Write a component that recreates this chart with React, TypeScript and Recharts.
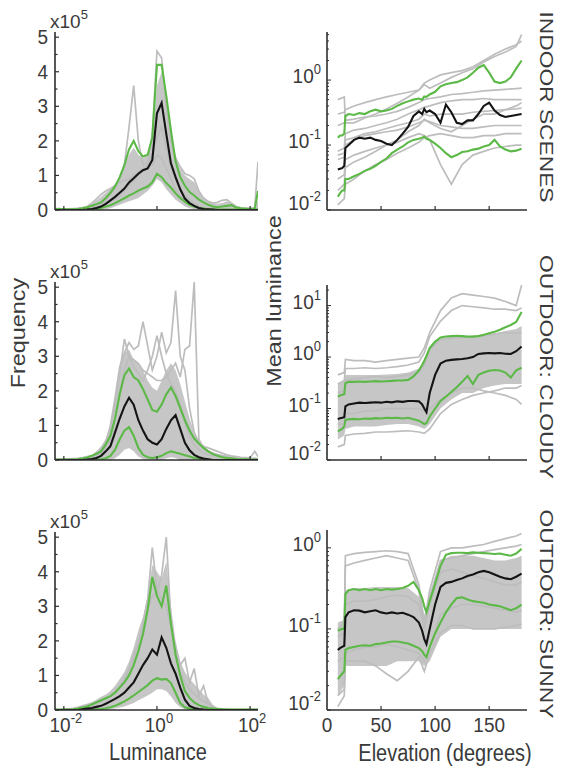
import React from "react";
import { ComposedChart, Line, Area, XAxis, YAxis } from "recharts";

const FONT = "'Liberation Sans', Arial, Helvetica, sans-serif";
const INK = "#3a3a3a";
const AXIS = "#2e2e2e";
const GRAY = "#bdbdbd";
const BAND = "#c6c6c6";
const GREEN = "#5cb947";
const BLACK = "#141414";

// ---- left column: luminance histograms (x = log10 luminance, y = frequency x1e5)
const lumBins = [-2.2, -2.1, -2.0, -1.9, -1.8, -1.7, -1.6, -1.5, -1.4, -1.3, -1.2, -1.1, -1.0, -0.9, -0.8, -0.7, -0.6, -0.5, -0.4, -0.3, -0.2, -0.1, 0, 0.1, 0.2, 0.3, 0.4, 0.5, 0.6, 0.7, 0.8, 0.9, 1.0, 1.1, 1.2, 1.3, 1.4, 1.5, 1.6, 1.7, 1.8, 1.9, 2.0, 2.1, 2.17];
const lumTicks = [-2, 0, 2];
const freqTicks = [0, 0.5, 1, 1.5, 2, 2.5, 3, 3.5, 4, 4.5, 5];

// indoor
const inHistMean = [0, 0, 0, 0, 0, 0, 0, 0.01, 0.03, 0.06, 0.1, 0.18, 0.28, 0.38, 0.5, 0.62, 0.8, 0.92, 1.05, 1.15, 1.2, 1.45, 2.8, 3.1, 2.2, 1.35, 0.95, 0.6, 0.33, 0.2, 0.12, 0.06, 0.03, 0.02, 0.01, 0, 0, 0, 0, 0, 0, 0, 0, 0, 0];
const inHistHi = [0.03, 0.03, 0.02, 0.02, 0.02, 0.03, 0.05, 0.08, 0.12, 0.17, 0.22, 0.35, 0.5, 0.68, 0.95, 1.3, 1.75, 2.0, 1.7, 1.55, 1.6, 2.1, 4.2, 4.2, 3.3, 2.3, 1.4, 0.95, 0.7, 0.52, 0.42, 0.3, 0.22, 0.15, 0.1, 0.08, 0.1, 0.12, 0.14, 0.07, 0.05, 0.04, 0.03, 0.04, 0.55];
const inHistLo = [0, 0, 0, 0, 0, 0, 0, 0.01, 0.02, 0.04, 0.06, 0.1, 0.14, 0.2, 0.27, 0.34, 0.42, 0.48, 0.56, 0.62, 0.68, 0.8, 1.05, 0.95, 0.78, 0.65, 0.48, 0.35, 0.24, 0.15, 0.1, 0.06, 0.04, 0.02, 0.01, 0.01, 0.01, 0.01, 0.01, 0.01, 0.01, 0.01, 0.01, 0.01, 0.01];
const inHistBandHi = [0.05, 0.05, 0.04, 0.04, 0.05, 0.06, 0.08, 0.12, 0.18, 0.28, 0.38, 0.5, 0.62, 0.75, 0.95, 1.3, 1.6, 1.8, 1.6, 1.5, 1.6, 2.0, 3.6, 4.0, 3.1, 2.2, 1.6, 1.2, 1.0, 0.9, 0.8, 0.55, 0.35, 0.25, 0.2, 0.18, 0.2, 0.25, 0.2, 0.12, 0.08, 0.06, 0.05, 0.05, 0.3];
const inHistBandLo = [0, 0, 0, 0, 0, 0, 0, 0, 0, 0, 0.01, 0.02, 0.05, 0.1, 0.15, 0.2, 0.25, 0.3, 0.35, 0.45, 0.55, 0.7, 0.9, 0.8, 0.6, 0.45, 0.3, 0.2, 0.1, 0.05, 0.02, 0, 0, 0, 0, 0, 0, 0, 0, 0, 0, 0, 0, 0, 0];
const inHistGray1 = [0, 0, 0, 0, 0, 0, 0.01, 0.02, 0.05, 0.1, 0.18, 0.3, 0.45, 0.65, 0.9, 1.3, 2.4, 3.6, 2.0, 1.3, 1.35, 1.6, 2.1, 2.4, 1.8, 1.2, 0.85, 0.6, 0.45, 0.3, 0.2, 0.12, 0.08, 0.05, 0.03, 0.02, 0.02, 0.02, 0.01, 0.01, 0.01, 0.01, 0.01, 0.01, 0.01];
const inHistGray2 = [0.04, 0.04, 0.03, 0.03, 0.03, 0.04, 0.05, 0.07, 0.1, 0.13, 0.17, 0.2, 0.25, 0.32, 0.4, 0.55, 0.7, 0.85, 1.0, 1.15, 1.3, 2.2, 4.6, 4.4, 3.0, 2.0, 1.5, 1.25, 1.05, 1.0, 0.9, 0.55, 0.35, 0.25, 0.2, 0.22, 0.28, 0.3, 0.2, 0.1, 0.06, 0.05, 0.05, 0.06, 1.4];
const inHistGray3 = [0.02, 0.02, 0.03, 0.03, 0.04, 0.05, 0.07, 0.1, 0.2, 0.32, 0.45, 0.55, 0.62, 0.7, 0.8, 0.85, 0.9, 1.0, 1.1, 1.2, 1.25, 1.3, 1.6, 1.5, 1.2, 0.9, 0.6, 0.4, 0.28, 0.2, 0.15, 0.1, 0.07, 0.05, 0.04, 0.03, 0.03, 0.02, 0.02, 0.02, 0.02, 0.02, 0.02, 0.02, 0.02];

// outdoor cloudy
const clHistMean = [0, 0, 0, 0, 0, 0, 0, 0.01, 0.03, 0.06, 0.12, 0.25, 0.4, 0.8, 1.2, 1.55, 1.8, 1.6, 1.15, 0.85, 0.6, 0.5, 0.45, 0.6, 0.9, 1.15, 1.3, 0.9, 0.5, 0.28, 0.15, 0.08, 0.04, 0.02, 0, 0, 0, 0, 0, 0, 0, 0, 0, 0, 0];
const clHistHi = [0.01, 0.01, 0.01, 0.01, 0.01, 0.02, 0.04, 0.07, 0.12, 0.18, 0.25, 0.45, 0.7, 1.2, 1.9, 2.45, 2.65, 2.4, 2.3, 2.05, 1.75, 1.45, 1.4, 1.6, 1.9, 2.1, 1.85, 1.5, 1.15, 0.85, 0.62, 0.48, 0.35, 0.25, 0.17, 0.12, 0.08, 0.06, 0.05, 0.03, 0.02, 0.02, 0.01, 0.01, 0.01];
const clHistLo = [0, 0, 0, 0, 0, 0, 0, 0, 0, 0.01, 0.02, 0.05, 0.12, 0.3, 0.6, 0.85, 0.95, 0.7, 0.35, 0.15, 0.08, 0.06, 0.08, 0.12, 0.2, 0.25, 0.22, 0.18, 0.14, 0.1, 0.06, 0.04, 0.02, 0.01, 0, 0, 0, 0, 0, 0, 0, 0, 0, 0, 0];
const clHistBandHi = [0.03, 0.03, 0.03, 0.04, 0.05, 0.06, 0.08, 0.1, 0.15, 0.25, 0.4, 0.6, 1.0, 1.8, 2.6, 3.1, 3.2, 2.9, 2.8, 2.6, 2.3, 2.1, 2.0, 2.3, 2.6, 2.8, 2.6, 2.2, 1.7, 1.2, 0.8, 0.55, 0.4, 0.3, 0.22, 0.18, 0.15, 0.12, 0.1, 0.08, 0.06, 0.05, 0.05, 0.08, 0.05];
const clHistBandLo = [0, 0, 0, 0, 0, 0, 0, 0, 0, 0, 0, 0, 0, 0.05, 0.15, 0.3, 0.35, 0.25, 0.1, 0.03, 0, 0, 0, 0, 0.05, 0.08, 0.06, 0, 0, 0, 0, 0, 0, 0, 0, 0, 0, 0, 0, 0, 0, 0, 0, 0, 0];
const clHistGray1 = [0.02, 0.02, 0.02, 0.03, 0.04, 0.05, 0.07, 0.1, 0.13, 0.17, 0.2, 0.5, 1.0, 1.8, 2.7, 3.1, 3.4, 3.2, 3.3, 4.0, 3.3, 2.6, 3.0, 3.7, 3.1, 3.4, 4.9, 3.0, 2.6, 1.5, 0.8, 0.5, 0.4, 0.35, 0.3, 0.25, 0.2, 0.15, 0.12, 0.1, 0.08, 0.07, 0.06, 0.25, 0.1];
const clHistGray2 = [0.01, 0.01, 0.01, 0.01, 0.02, 0.03, 0.04, 0.06, 0.09, 0.13, 0.2, 0.35, 0.6, 1.2, 2.0, 2.6, 3.0, 2.9, 2.8, 2.6, 2.5, 2.4, 2.3, 2.3, 2.4, 2.6, 2.8, 2.4, 3.2, 3.3, 5.15, 0.6, 0.35, 0.25, 0.2, 0.16, 0.13, 0.1, 0.08, 0.06, 0.05, 0.04, 0.04, 0.04, 0.04];
const clHistGray3 = [0.01, 0.01, 0.02, 0.02, 0.03, 0.04, 0.05, 0.07, 0.1, 0.15, 0.3, 0.55, 0.9, 1.6, 2.5, 3.5, 3.0, 2.7, 2.5, 2.3, 2.6, 3.0, 3.6, 3.0, 2.5, 2.2, 2.0, 1.6, 1.1, 0.7, 0.45, 0.3, 0.2, 0.15, 0.12, 0.1, 0.08, 0.07, 0.06, 0.05, 0.04, 0.04, 0.03, 0.03, 0.03];

// outdoor sunny
const suHistMean = [0, 0, 0, 0, 0, 0, 0.02, 0.04, 0.06, 0.09, 0.12, 0.18, 0.25, 0.32, 0.4, 0.5, 0.65, 0.8, 1.05, 1.3, 1.5, 1.75, 1.6, 2.1, 1.8, 1.35, 1.05, 0.65, 0.3, 0.12, 0.06, 0.03, 0.01, 0, 0, 0, 0, 0, 0, 0, 0, 0, 0, 0, 0];
const suHistHi = [0.01, 0.01, 0.01, 0.01, 0.02, 0.04, 0.07, 0.1, 0.16, 0.22, 0.28, 0.34, 0.4, 0.5, 0.65, 0.8, 1.0, 1.3, 1.7, 2.2, 2.9, 3.85, 3.3, 3.0, 3.6, 2.5, 1.6, 1.0, 0.55, 0.35, 0.22, 0.14, 0.09, 0.06, 0.04, 0.03, 0.02, 0.01, 0.01, 0.01, 0.01, 0.01, 0.01, 0.01, 0.01];
const suHistLo = [0, 0, 0, 0, 0, 0, 0, 0, 0, 0.02, 0.03, 0.05, 0.08, 0.12, 0.18, 0.25, 0.33, 0.42, 0.52, 0.62, 0.72, 0.85, 0.92, 0.88, 0.9, 0.78, 0.5, 0.2, 0.08, 0.04, 0.02, 0.01, 0, 0, 0, 0, 0, 0, 0, 0, 0, 0, 0, 0, 0];
const suHistBandHi = [0.02, 0.03, 0.04, 0.05, 0.06, 0.08, 0.1, 0.15, 0.22, 0.3, 0.38, 0.45, 0.55, 0.7, 0.9, 1.1, 1.4, 1.8, 2.3, 2.7, 3.3, 4.2, 4.0, 3.8, 4.3, 3.0, 2.0, 1.4, 1.1, 0.9, 0.75, 0.6, 0.45, 0.35, 0.15, 0.05, 0.03, 0.02, 0.02, 0.02, 0.01, 0.01, 0.01, 0.01, 0.01];
const suHistBandLo = [0, 0, 0, 0, 0, 0, 0, 0, 0, 0, 0, 0, 0.02, 0.04, 0.07, 0.1, 0.15, 0.2, 0.28, 0.35, 0.42, 0.5, 0.6, 0.6, 0.55, 0.4, 0.2, 0.08, 0.02, 0, 0, 0, 0, 0, 0, 0, 0, 0, 0, 0, 0, 0, 0, 0, 0];
const suHistGray1 = [0.01, 0.01, 0.02, 0.03, 0.05, 0.08, 0.12, 0.16, 0.2, 0.25, 0.3, 0.35, 0.4, 0.5, 0.65, 0.85, 1.1, 1.5, 1.9, 2.5, 3.2, 4.7, 3.5, 3.2, 3.0, 2.4, 1.8, 1.3, 1.5, 0.8, 1.2, 0.4, 0.7, 0.2, 0.08, 0.03, 0.02, 0.01, 0.01, 0.01, 0.01, 0.01, 0.01, 0.01, 0.01];
const suHistGray2 = [0, 0, 0.01, 0.01, 0.02, 0.03, 0.05, 0.08, 0.12, 0.18, 0.25, 0.32, 0.4, 0.52, 0.7, 0.9, 1.2, 1.6, 2.0, 2.4, 2.9, 3.3, 3.4, 3.9, 5.0, 2.6, 1.6, 1.1, 0.8, 0.6, 0.45, 0.35, 0.25, 0.18, 0.1, 0.05, 0.03, 0.02, 0.01, 0.01, 0.01, 0.01, 0.01, 0.01, 0.01];

// ---- right column: mean luminance vs elevation (degrees)
const elevFine = [10, 12, 14, 16, 17, 20, 25, 30, 35, 40, 45, 50, 55, 60, 65, 70, 75, 80, 85, 88, 90, 92, 95, 100, 105, 110, 115, 120, 125, 130, 135, 140, 145, 150, 155, 160, 165, 170, 175, 180];
const elevCoarse = [10, 16, 17, 25, 35, 45, 55, 65, 75, 85, 90, 95, 105, 115, 125, 135, 145, 155, 165, 175, 180];
const elevTicks = [0, 50, 100, 150];

// indoor
const inElevMean = [0.042, 0.043, 0.044, 0.048, 0.09, 0.1, 0.12, 0.13, 0.125, 0.13, 0.12, 0.115, 0.105, 0.1, 0.12, 0.15, 0.19, 0.28, 0.33, 0.3, 0.36, 0.32, 0.34, 0.3, 0.22, 0.42, 0.32, 0.22, 0.21, 0.24, 0.24, 0.3, 0.4, 0.45, 0.34, 0.29, 0.27, 0.28, 0.29, 0.3];
const inElevHi = [0.13, 0.14, 0.14, 0.15, 0.28, 0.3, 0.29, 0.31, 0.3, 0.33, 0.35, 0.33, 0.34, 0.36, 0.4, 0.44, 0.47, 0.5, 0.52, 0.5, 0.56, 0.55, 0.6, 0.66, 0.8, 0.86, 0.9, 0.93, 1.0, 1.1, 1.3, 1.55, 1.7, 1.3, 0.95, 0.9, 0.95, 1.1, 1.5, 2.0];
const inElevLo = [0.016, 0.018, 0.02, 0.02, 0.03, 0.03, 0.033, 0.036, 0.04, 0.043, 0.048, 0.055, 0.062, 0.075, 0.085, 0.095, 0.11, 0.12, 0.125, 0.13, 0.135, 0.125, 0.12, 0.105, 0.09, 0.075, 0.065, 0.07, 0.078, 0.08, 0.085, 0.088, 0.095, 0.1, 0.12, 0.095, 0.085, 0.08, 0.082, 0.088];
const inElevGrays = [
  [0.5, 0.55, 0.22, 0.22, 0.26, 0.3, 0.36, 0.44, 0.55, 0.7, 0.85, 0.75, 0.9, 1.1, 1.3, 1.5, 1.9, 2.3, 2.7, 3.3, 5.0],
  [0.2, 0.22, 0.24, 0.25, 0.27, 0.28, 0.3, 0.33, 0.38, 0.45, 0.5, 0.52, 0.55, 0.6, 0.62, 0.65, 0.68, 0.7, 0.72, 0.74, 0.75],
  [0.08, 0.09, 0.15, 0.17, 0.18, 0.2, 0.22, 0.25, 0.3, 0.35, 0.38, 0.4, 0.45, 0.48, 0.5, 0.5, 0.52, 0.5, 0.5, 0.5, 0.5],
  [0.03, 0.035, 0.06, 0.07, 0.08, 0.09, 0.1, 0.11, 0.13, 0.15, 0.14, 0.12, 0.05, 0.025, 0.05, 0.07, 0.08, 0.09, 0.095, 0.1, 0.1],
  [0.012, 0.015, 0.025, 0.03, 0.04, 0.05, 0.06, 0.075, 0.09, 0.11, 0.13, 0.14, 0.15, 0.14, 0.13, 0.13, 0.14, 0.14, 0.15, 0.15, 0.15],
  [0.06, 0.065, 0.1, 0.12, 0.14, 0.15, 0.16, 0.17, 0.19, 0.22, 0.24, 0.23, 0.2, 0.19, 0.18, 0.18, 0.19, 0.2, 0.2, 0.2, 0.2],
  [0.07, 0.075, 0.12, 0.13, 0.15, 0.16, 0.18, 0.2, 0.22, 0.25, 0.3, 0.28, 0.3, 0.3, 0.3, 0.32, 0.33, 0.34, 0.35, 0.36, 0.37],
  [0.02, 0.025, 0.045, 0.055, 0.065, 0.08, 0.1, 0.12, 0.16, 0.2, 0.25, 0.22, 0.18, 0.16, 0.2, 0.25, 0.3, 0.3, 0.35, 0.4, 0.45],
  [0.3, 0.32, 0.35, 0.4, 0.45, 0.5, 0.55, 0.6, 0.65, 0.7, 0.9, 1.0, 1.2, 1.3, 1.4, 1.6, 2.0, 2.5, 3.0, 3.5, 4.0],
];

// outdoor cloudy
const clElevMean = [0.062, 0.065, 0.066, 0.068, 0.11, 0.12, 0.125, 0.13, 0.128, 0.13, 0.132, 0.13, 0.135, 0.132, 0.138, 0.135, 0.14, 0.14, 0.138, 0.12, 0.1, 0.085, 0.2, 0.45, 0.75, 0.85, 0.88, 0.9, 0.92, 0.95, 1.0, 1.15, 1.18, 1.2, 1.18, 1.2, 1.16, 1.15, 1.3, 1.6];
const clElevHi = [0.17, 0.18, 0.185, 0.19, 0.31, 0.33, 0.33, 0.335, 0.33, 0.335, 0.34, 0.335, 0.34, 0.345, 0.35, 0.35, 0.36, 0.42, 0.55, 0.7, 0.85, 1.05, 1.5, 2.0, 2.4, 2.5, 2.55, 2.6, 2.55, 2.5, 2.5, 2.55, 2.7, 2.9, 3.1, 3.4, 3.8, 4.2, 4.8, 7.5];
const clElevLo = [0.036, 0.038, 0.04, 0.045, 0.06, 0.062, 0.063, 0.062, 0.064, 0.063, 0.065, 0.064, 0.066, 0.065, 0.066, 0.064, 0.066, 0.062, 0.058, 0.053, 0.05, 0.052, 0.07, 0.1, 0.14, 0.17, 0.21, 0.26, 0.33, 0.43, 0.3, 0.45, 0.5, 0.54, 0.56, 0.55, 0.5, 0.4, 0.55, 0.62];
const clElevBandLo = [0.025, 0.03, 0.04, 0.045, 0.045, 0.045, 0.048, 0.05, 0.05, 0.045, 0.04, 0.05, 0.1, 0.15, 0.2, 0.2, 0.25, 0.28, 0.3, 0.3, 0.3];
const clElevBandHi = [0.3, 0.35, 0.45, 0.45, 0.45, 0.45, 0.46, 0.47, 0.5, 0.6, 0.9, 1.6, 2.3, 2.5, 2.5, 2.6, 2.7, 2.9, 3.2, 3.5, 4.0];
const clElevGrays = [
  [0.45, 0.5, 0.9, 0.85, 0.85, 0.8, 0.85, 0.9, 0.95, 1.0, 1.5, 3.0, 8.0, 14, 17, 16, 15, 14, 12, 10, 25],
  [0.3, 0.35, 0.6, 0.6, 0.62, 0.6, 0.62, 0.65, 0.7, 0.8, 1.2, 2.5, 5, 8, 10, 9.5, 9, 8.5, 8.5, 8, 9],
  [0.05, 0.05, 0.08, 0.08, 0.09, 0.09, 0.1, 0.1, 0.1, 0.1, 0.09, 0.1, 0.15, 0.2, 0.25, 0.25, 0.22, 0.2, 0.18, 0.15, 0.12],
  [0.018, 0.02, 0.03, 0.032, 0.033, 0.035, 0.035, 0.036, 0.037, 0.035, 0.033, 0.04, 0.08, 0.12, 0.15, 0.18, 0.2, 0.22, 0.25, 0.25, 0.28],
  [0.2, 0.22, 0.35, 0.38, 0.4, 0.42, 0.4, 0.42, 0.45, 0.5, 0.7, 1.4, 2.2, 2.3, 2.4, 2.5, 2.6, 2.8, 3.0, 2.9, 3.0],
];

// outdoor sunny
const suElevMean = [0.055, 0.058, 0.06, 0.062, 0.14, 0.16, 0.17, 0.168, 0.16, 0.165, 0.17, 0.16, 0.155, 0.16, 0.155, 0.158, 0.15, 0.14, 0.12, 0.095, 0.075, 0.065, 0.1, 0.2, 0.33, 0.37, 0.38, 0.4, 0.42, 0.45, 0.47, 0.5, 0.52, 0.5, 0.47, 0.44, 0.42, 0.41, 0.44, 0.48];
const suElevHi = [0.095, 0.098, 0.1, 0.1, 0.27, 0.3, 0.31, 0.3, 0.31, 0.3, 0.31, 0.3, 0.31, 0.305, 0.31, 0.32, 0.34, 0.38, 0.3, 0.24, 0.19, 0.16, 0.22, 0.36, 0.6, 0.82, 0.86, 0.87, 0.87, 0.86, 0.88, 0.87, 0.86, 0.85, 0.84, 0.85, 0.82, 0.8, 0.85, 0.97];
const suElevLo = [0.024, 0.026, 0.028, 0.03, 0.055, 0.058, 0.06, 0.062, 0.063, 0.062, 0.065, 0.066, 0.068, 0.07, 0.07, 0.068, 0.066, 0.062, 0.058, 0.053, 0.048, 0.045, 0.06, 0.088, 0.12, 0.16, 0.2, 0.24, 0.245, 0.23, 0.22, 0.215, 0.21, 0.2, 0.195, 0.19, 0.18, 0.17, 0.18, 0.2];
const suElevBandLo = [0.015, 0.02, 0.035, 0.035, 0.035, 0.035, 0.035, 0.04, 0.04, 0.04, 0.035, 0.04, 0.08, 0.1, 0.1, 0.1, 0.1, 0.1, 0.1, 0.1, 0.1];
const suElevBandHi = [0.12, 0.13, 0.3, 0.32, 0.32, 0.33, 0.33, 0.33, 0.32, 0.25, 0.15, 0.25, 0.7, 0.8, 0.8, 0.8, 0.75, 0.7, 0.7, 0.75, 0.8];
const suElevGrays = [
  [0.1, 0.12, 0.8, 0.85, 0.88, 0.9, 0.92, 0.9, 0.85, 0.35, 0.12, 0.3, 0.9, 1.0, 1.0, 1.05, 1.1, 1.2, 1.3, 1.4, 1.5],
  [0.08, 0.09, 0.6, 0.65, 0.7, 0.75, 0.8, 0.75, 0.7, 0.3, 0.1, 0.25, 0.7, 0.75, 0.8, 0.85, 0.9, 0.95, 1.0, 1.05, 1.1],
  [0.015, 0.018, 0.04, 0.04, 0.04, 0.035, 0.028, 0.023, 0.03, 0.045, 0.03, 0.05, 0.09, 0.11, 0.11, 0.1, 0.1, 0.1, 0.105, 0.11, 0.115],
  [0.011, 0.015, 0.05, 0.055, 0.06, 0.06, 0.065, 0.06, 0.055, 0.05, 0.04, 0.06, 0.15, 0.18, 0.2, 0.2, 0.19, 0.18, 0.17, 0.16, 0.17],
  [0.04, 0.045, 0.2, 0.22, 0.22, 0.23, 0.25, 0.26, 0.25, 0.2, 0.1, 0.2, 0.5, 0.55, 0.5, 0.45, 0.42, 0.38, 0.35, 0.35, 0.38],
];

const inDecades = [-2, -1, 0];
const clDecades = [-2, -1, 0, 1];
const suDecades = [-2, -1, 0];

// ---- helpers
const pts = (xs: number[], ys: number[], log = false) =>
  xs.map((x, i) => ({ x, y: log ? Math.log10(ys[i]) : ys[i] }));
const rng = (xs: number[], lo: number[], hi: number[], log = false) =>
  xs.map((x, i) => ({ x, y: log ? [Math.log10(lo[i]), Math.log10(hi[i])] : [lo[i], hi[i]] }));

const withMinors = (decades: number[], top: number) => {
  const out: number[] = [];
  decades.forEach((d) => {
    out.push(d);
    [2, 3, 4, 5, 6, 7, 8, 9].forEach((k) => {
      const v = d + Math.log10(k);
      if (v < top) out.push(v);
    });
  });
  return out;
};

function Pow({ x, y, exp, anchor }: any) {
  return (
    <text transform={`translate(${x},${y}) scale(1,1.1)`} textAnchor={anchor} fontFamily={FONT} fontSize={19} fill={INK}>
      10<tspan fontSize={13} dy={-8}>{exp}</tspan>
    </text>
  );
}

const axisStyle = { stroke: AXIS, strokeWidth: 1.6 };

// every chart: plot bottom at y=210 (margin bottom 22 + x-axis height 8),
// plot left = margin.left + y-axis width 8
function Panel(p: any) {
  return (
    <div style={{ position: "absolute", left: p.left, top: p.top }}>
      <ComposedChart width={p.width} height={240} margin={p.margin}>
        <XAxis type="number" dataKey="x" domain={p.xDomain} ticks={p.xTicks} interval={0} allowDataOverflow
          height={8} axisLine={axisStyle} tickLine={false} tick={p.xTick} />
        <YAxis type="number" domain={p.yDomain} ticks={p.yTicks} interval={0} allowDataOverflow
          width={8} axisLine={axisStyle} tickLine={false} tick={p.yTick} />
        <Area data={p.band} dataKey="y" type="linear" stroke="none" fill={BAND} fillOpacity={1} isAnimationActive={false} />
        {p.grays.map((g: any, i: number) => (
          <Line key={i} data={g} dataKey="y" type="linear" stroke={GRAY} strokeWidth={1.7} dot={false} isAnimationActive={false} />
        ))}
        <Line data={p.hi} dataKey="y" type="linear" stroke={GREEN} strokeWidth={2.1} dot={false} isAnimationActive={false} />
        <Line data={p.lo} dataKey="y" type="linear" stroke={GREEN} strokeWidth={2.1} dot={false} isAnimationActive={false} />
        <Line data={p.mean} dataKey="y" type="linear" stroke={BLACK} strokeWidth={2.1} dot={false} isAnimationActive={false} />
      </ComposedChart>
    </div>
  );
}

// histogram axes (plot left 55, bottom 210 inside each 280x240 chart)
const histXTick = (labels: boolean) => (t: any) => (
  <g>
    <line x1={t.x} x2={t.x} y1={210} y2={206} stroke={AXIS} strokeWidth={1.2} />
    {labels && <Pow x={t.x + 2} y={232} exp={String(t.payload.value)} anchor="middle" />}
  </g>
);
const histYTick = (t: any) => {
  const v = t.payload.value;
  const major = Math.abs(v - Math.round(v)) < 1e-6;
  return (
    <g>
      <line x1={55} x2={55 + (major ? 4 : 2.5)} y1={t.y} y2={t.y} stroke={AXIS} strokeWidth={1.2} />
      {major && (
        <text transform={`translate(48,${t.y + 6.8}) scale(1,1.1)`} textAnchor="end" fontFamily={FONT} fontSize={19} fill={INK}>
          {v}
        </text>
      )}
    </g>
  );
};

// elevation axes (plot left 47, bottom 210 inside each 283x240 chart)
const elevXTick = (labels: boolean) => (t: any) => (
  <g>
    {t.payload.value !== 0 && <line x1={t.x} x2={t.x} y1={210} y2={206} stroke={AXIS} strokeWidth={1.2} />}
    {labels && (
      <text transform={`translate(${t.x},232) scale(1,1.1)`} textAnchor="middle" fontFamily={FONT} fontSize={19} fill={INK}>
        {t.payload.value}
      </text>
    )}
  </g>
);
const logYTick = (t: any) => {
  const v = t.payload.value;
  const major = Math.abs(v - Math.round(v)) < 1e-6;
  const bottom = major && Math.round(v) === -2;
  return (
    <g>
      <line x1={47} x2={47 + (major ? 4 : 2)} y1={t.y} y2={t.y} stroke={AXIS} strokeWidth={1} />
      {major && <Pow x={41} y={t.y + (bottom ? 0 : 3)} exp={String(Math.round(v))} anchor="end" />}
    </g>
  );
};

const histMargin = { top: 32, right: 22, bottom: 22, left: 47 };
const histCommon = { left: 0, width: 280, margin: histMargin, xDomain: [-2.19, 2.17], xTicks: lumTicks, yDomain: [0, 5.15], yTicks: freqTicks, yTick: histYTick };
const elevCommon = { left: 280, width: 283, xDomain: [0, 185], xTicks: elevTicks, yTick: logYTick };

function Txt({ tf, children, size = 20 }: any) {
  return (
    <text transform={tf} textAnchor="middle" fontFamily={FONT} fontSize={size} fill={INK}>
      {children}
    </text>
  );
}

export default function App() {
  return (
    <div style={{ position: "absolute", left: 0, top: 0, width: 563, height: 770, background: "#fff" }}>
      <Panel {...histCommon} top={0} xTick={histXTick(false)}
        band={rng(lumBins, inHistBandLo, inHistBandHi)}
        grays={[pts(lumBins, inHistGray1), pts(lumBins, inHistGray2), pts(lumBins, inHistGray3)]}
        hi={pts(lumBins, inHistHi)} lo={pts(lumBins, inHistLo)} mean={pts(lumBins, inHistMean)} />
      <Panel {...histCommon} top={250} xTick={histXTick(false)}
        band={rng(lumBins, clHistBandLo, clHistBandHi)}
        grays={[pts(lumBins, clHistGray1), pts(lumBins, clHistGray2), pts(lumBins, clHistGray3)]}
        hi={pts(lumBins, clHistHi)} lo={pts(lumBins, clHistLo)} mean={pts(lumBins, clHistMean)} />
      <Panel {...histCommon} top={500} xTick={histXTick(true)}
        band={rng(lumBins, suHistBandLo, suHistBandHi)}
        grays={[pts(lumBins, suHistGray1), pts(lumBins, suHistGray2)]}
        hi={pts(lumBins, suHistHi)} lo={pts(lumBins, suHistLo)} mean={pts(lumBins, suHistMean)} />

      <Panel {...elevCommon} top={0} margin={{ top: 32, right: 36, bottom: 22, left: 39 }}
        yDomain={[-2, 0.74]} yTicks={withMinors(inDecades, 0.74)} xTick={elevXTick(false)}
        band={[]}
        grays={inElevGrays.map((g) => pts(elevCoarse, g, true))}
        hi={pts(elevFine, inElevHi, true)} lo={pts(elevFine, inElevLo, true)} mean={pts(elevFine, inElevMean, true)} />
      <Panel {...elevCommon} top={250} margin={{ top: 35, right: 36, bottom: 22, left: 39 }}
        yDomain={[-2, 1.4]} yTicks={withMinors(clDecades, 1.4)} xTick={elevXTick(false)}
        band={rng(elevCoarse, clElevBandLo, clElevBandHi, true)}
        grays={clElevGrays.map((g) => pts(elevCoarse, g, true))}
        hi={pts(elevFine, clElevHi, true)} lo={pts(elevFine, clElevLo, true)} mean={pts(elevFine, clElevMean, true)} />
      <Panel {...elevCommon} top={500} margin={{ top: 30, right: 36, bottom: 22, left: 39 }}
        yDomain={[-2, 0.22]} yTicks={withMinors(suDecades, 0.22)} xTick={elevXTick(true)}
        band={rng(elevCoarse, suElevBandLo, suElevBandHi, true)}
        grays={suElevGrays.map((g) => pts(elevCoarse, g, true))}
        hi={pts(elevFine, suElevHi, true)} lo={pts(elevFine, suElevLo, true)} mean={pts(elevFine, suElevMean, true)} />

      <svg width={563} height={770} style={{ position: "absolute", left: 0, top: 0, pointerEvents: "none" }}>
        {[0, 250, 500].map((dy) => (
          <text key={dy} x={50} y={28 + dy} fontFamily={FONT} fontSize={19} fill={INK}>
            x10<tspan fontSize={13} dy={-9}>5</tspan>
          </text>
        ))}
        <Txt tf="translate(25,333) scale(1,1.2) rotate(-90)" size={19.5}>Frequency</Txt>
        <Txt tf="translate(281,301) scale(1,1.2) rotate(-90)" size={19.5}>Mean luminance</Txt>
        <Txt tf="translate(158,760) scale(1,1.15)">Luminance</Txt>
        <Txt tf="translate(445,761) scale(1,1.15)">Elevation (degrees)</Txt>
        <Txt tf="translate(540,107) scale(1,1.2) rotate(90)" size={19}>INDOOR SCENES</Txt>
        <Txt tf="translate(540,367) scale(1,1.2) rotate(90)" size={19}>OUTDOOR: CLOUDY</Txt>
        <Txt tf="translate(540,614) scale(1,1.2) rotate(90)" size={19}>OUTDOOR: SUNNY</Txt>
      </svg>
    </div>
  );
}
